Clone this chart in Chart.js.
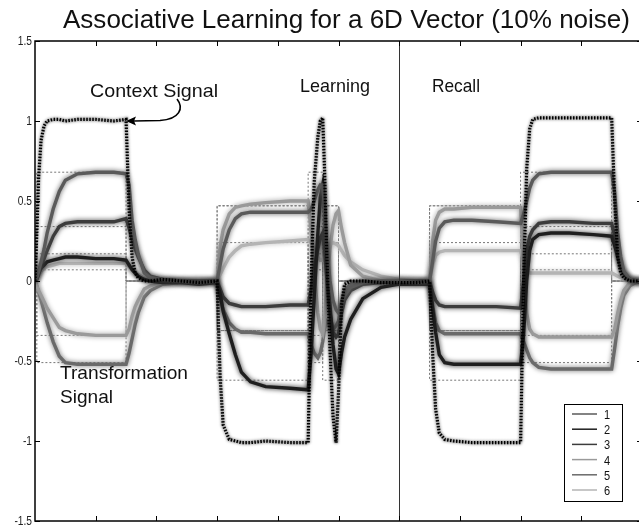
<!DOCTYPE html>
<html>
<head>
<meta charset="utf-8">
<script src="https://cdn.jsdelivr.net/npm/chart.js@4.4.1/dist/chart.umd.min.js"></script>
<style>
  html, body { margin: 0; padding: 0; background: #fff; overflow: hidden; }
  #wrap { width: 639px; height: 527px; overflow: hidden; }
  canvas { display: block; }
</style>
</head>
<body>
<div id="wrap"><canvas id="chart" width="646" height="527"></canvas></div>
<script>
// time steps (x axis, no labels shown)
const T = [0, 3, 6, 10, 15, 20, 30, 40, 50, 70, 100, 130, 150, 155, 160, 165, 170, 180, 190, 210,
  240, 270, 300, 305, 310, 320, 330, 340, 355, 380, 420, 450, 455, 460, 466, 470, 474, 477, 480, 486,
  491, 496, 500, 505, 510, 520, 540, 570, 600, 630, 650, 655, 660, 666, 675, 690, 720, 760, 800, 805,
  810, 815, 820, 830, 850, 880, 920, 950, 955, 960, 965, 970, 980, 990, 1000];

// context signal (dotted black)
const context = [0, 0.3, 0.65, 0.88, 0.97, 1.0, 1.01, 1.01, 1.0, 1.01, 1.01, 1.0, 1.01, 0.45, 0.15, 0.05, 0.02, 0, 0, 0.01,
  0, -0.01, 0, -0.6, -0.9, -0.99, -1.0, -1.01, -1.01, -1.0, -1.01, -1.01, 0.0, 0.62, 0.9, 1.0, 1.02, 0.7, 0.25, -0.43,
  -0.85, -1.01, -0.7, -0.15, -0.02, 0, 0, -0.01, -0.01, -0.01, 0, -0.45, -0.8, -0.95, -0.99, -1.0, -1.01, -1.01, -1.01, 0.0,
  0.7, 0.95, 1.01, 1.02, 1.02, 1.02, 1.02, 1.02, 0.5, 0.15, 0.05, 0.02, 0, 0, 0];

// the six vector components
const ch1 = [0, 0.02, 0.06, 0.12, 0.2, 0.3, 0.45, 0.56, 0.63, 0.67, 0.68, 0.68, 0.67, 0.6, 0.38, 0.26, 0.17, 0.05, 0.02, 0.01,
  0, -0.01, 0, 0.1, 0.2, 0.32, 0.39, 0.42, 0.43, 0.43, 0.43, 0.43, 0.45, 0.5, 0.57, 0.6, 0.6, 0.45, 0.25, 0.0,
  -0.12, -0.18, -0.2, -0.14, -0.09, -0.04, -0.01, 0, 0, -0.01, 0, 0.12, 0.25, 0.33, 0.37, 0.38, 0.38, 0.37, 0.36, 0.42,
  0.5, 0.58, 0.63, 0.67, 0.68, 0.68, 0.68, 0.68, 0.55, 0.3, 0.15, 0.06, 0.01, 0, 0];
const ch2 = [0, 0.02, 0.05, 0.08, 0.1, 0.12, 0.13, 0.14, 0.15, 0.15, 0.14, 0.14, 0.13, 0.1, 0.07, 0.05, 0.03, 0.01, 0, -0.01,
  -0.01, -0.02, -0.01, -0.08, -0.19, -0.33, -0.46, -0.57, -0.63, -0.66, -0.67, -0.68, -0.45, -0.1, 0.3, 0.52, 0.6, 0.45, 0.2, -0.15,
  -0.4, -0.55, -0.58, -0.45, -0.35, -0.24, -0.11, -0.04, -0.02, -0.02, -0.02, -0.17, -0.32, -0.46, -0.51, -0.52, -0.52, -0.52, -0.52, -0.33,
  0.0, 0.19, 0.26, 0.29, 0.3, 0.3, 0.29, 0.28, 0.22, 0.15, 0.09, 0.05, 0.01, 0, -0.01];
const ch3 = [0, 0.01, 0.04, 0.09, 0.14, 0.19, 0.28, 0.34, 0.36, 0.37, 0.37, 0.37, 0.39, 0.33, 0.26, 0.2, 0.15, 0.07, 0.03, 0.01,
  0, 0, 0, -0.05, -0.1, -0.14, -0.15, -0.16, -0.16, -0.16, -0.15, -0.15, -0.05, 0.08, 0.2, 0.27, 0.3, 0.2, 0.05, -0.2,
  -0.32, -0.35, -0.33, -0.2, -0.12, -0.06, -0.02, -0.01, 0, 0, 0, -0.07, -0.12, -0.15, -0.16, -0.16, -0.16, -0.16, -0.17, 0.0,
  0.19, 0.28, 0.32, 0.36, 0.37, 0.37, 0.36, 0.36, 0.28, 0.17, 0.1, 0.05, 0.01, 0, 0];
const ch4 = [0, -0.03, -0.06, -0.09, -0.13, -0.17, -0.23, -0.29, -0.31, -0.33, -0.34, -0.34, -0.34, -0.3, -0.22, -0.16, -0.12, -0.05, -0.03, -0.01,
  0, 0, 0, 0.22, 0.32, 0.42, 0.46, 0.47, 0.48, 0.49, 0.5, 0.5, 0.3, 0.05, -0.2, -0.3, -0.33, -0.25, -0.05, 0.2,
  0.35, 0.42, 0.44, 0.33, 0.24, 0.1, 0.03, 0, 0, 0, 0, 0.25, 0.38, 0.43, 0.45, 0.45, 0.46, 0.46, 0.46, 0.1,
  -0.2, -0.3, -0.33, -0.35, -0.35, -0.35, -0.35, -0.35, -0.3, -0.2, -0.12, -0.06, -0.01, 0, 0];
const ch5 = [0, -0.03, -0.07, -0.12, -0.19, -0.26, -0.38, -0.47, -0.51, -0.52, -0.52, -0.52, -0.52, -0.45, -0.36, -0.27, -0.2, -0.1, -0.06, -0.02,
  -0.01, 0, 0, -0.1, -0.18, -0.26, -0.3, -0.32, -0.32, -0.33, -0.33, -0.33, -0.4, -0.45, -0.48, -0.45, -0.38, -0.3, -0.25, -0.28,
  -0.3, -0.28, -0.25, -0.13, -0.06, -0.02, 0, 0, 0, 0, 0, -0.15, -0.26, -0.31, -0.33, -0.33, -0.33, -0.33, -0.33, -0.38,
  -0.43, -0.48, -0.51, -0.54, -0.55, -0.55, -0.55, -0.55, -0.42, -0.28, -0.17, -0.09, -0.03, -0.01, 0];
const ch6 = [0, 0.02, 0.04, 0.06, 0.08, 0.09, 0.1, 0.11, 0.11, 0.11, 0.11, 0.11, 0.11, 0.09, 0.07, 0.05, 0.04, 0.02, 0.01, 0,
  0, 0, 0, 0.04, 0.08, 0.15, 0.19, 0.22, 0.23, 0.24, 0.25, 0.26, 0.24, 0.2, 0.15, 0.13, 0.13, 0.16, 0.2, 0.23,
  0.24, 0.23, 0.22, 0.19, 0.16, 0.12, 0.07, 0.03, 0.01, 0, 0, 0.1, 0.16, 0.18, 0.19, 0.19, 0.19, 0.19, 0.19, 0.12,
  0.07, 0.05, 0.05, 0.05, 0.05, 0.05, 0.05, 0.05, 0.04, 0.03, 0.02, 0.01, 0, 0, 0];

// step targets (dotted rectangles)
const tgtT = [0, 3, 150, 300, 450, 474, 500, 650, 800, 950, 1000];
const tgt1 = [0, 0.68, 0, 0.47, 0.68, 0.47, 0, 0.47, 0.68, 0, 0];
const tgt2 = [0, 0.17, 0, -0.62, 0.17, -0.62, 0, -0.62, 0.17, 0, 0];
const tgt3 = [0, 0.34, 0, -0.31, 0.34, -0.31, 0, -0.31, 0.34, 0, 0];
const tgt4 = [0, -0.34, 0, 0.47, -0.34, 0.47, 0, 0.47, -0.34, 0, 0];
const tgt5 = [0, -0.51, 0, -0.31, -0.51, -0.31, 0, -0.31, -0.51, 0, 0];
const tgt6 = [0, 0.07, 0, 0.24, 0.07, 0.24, 0, 0.24, 0.07, 0, 0];

const yTicks = [1.5, 1, 0.5, 0, -0.5, -1, -1.5];
const xTicks = [100, 200, 300, 400, 500, 600, 700, 800, 900];
const splitAt = 600;

const FONT = '"Liberation Sans", Arial, sans-serif';
const chanColors = ['#5a5a5a', '#1e1e1e', '#3c3c3c', '#9a9a9a', '#6a6a6a', '#b4b4b4'];

function pts(xs, ys) {
  return xs.map((x, i) => ({ x: x, y: ys[i] }));
}

// draw text squeezed to a given width
function fitText(ctx, str, x, y, size, width) {
  ctx.font = size + 'px ' + FONT;
  const w = ctx.measureText(str).width;
  ctx.save();
  ctx.translate(x, y);
  ctx.scale(width / w, 1);
  ctx.textAlign = 'left';
  ctx.textBaseline = 'alphabetic';
  ctx.fillText(str, 0, 0);
  ctx.restore();
}

// soft blur so the lines read like the noisy traces
const fuzzPlugin = {
  id: 'fuzz',
  beforeDatasetDraw(chart, args) {
    const ds = chart.data.datasets[args.index];
    chart.ctx.save();
    if (ds.fuzz) {
      chart.ctx.shadowColor = ds.borderColor;
      chart.ctx.shadowBlur = ds.fuzz;
    }
  },
  afterDatasetDraw(chart) {
    chart.ctx.restore();
  }
};

const framePlugin = {
  id: 'frame',
  afterDatasetsDraw(chart) {
    const ctx = chart.ctx;
    const a = chart.chartArea;
    const xs = chart.scales.x, ys = chart.scales.y;
    ctx.save();

    // split line between learning and recall
    const sx = Math.round(xs.getPixelForValue(splitAt)) + 0.5;
    ctx.strokeStyle = '#333';
    ctx.lineWidth = 1;
    ctx.beginPath();
    ctx.moveTo(sx, a.top);
    ctx.lineTo(sx, a.bottom);
    ctx.stroke();

    // box
    ctx.strokeStyle = '#000';
    ctx.lineWidth = 1.5;
    ctx.strokeRect(a.left, a.top, a.right - a.left, a.bottom - a.top);

    // inward ticks
    ctx.lineWidth = 1;
    ctx.beginPath();
    xTicks.forEach(v => {
      const px = Math.round(xs.getPixelForValue(v)) + 0.5;
      ctx.moveTo(px, a.top); ctx.lineTo(px, a.top + 5);
      ctx.moveTo(px, a.bottom); ctx.lineTo(px, a.bottom - 5);
    });
    yTicks.forEach(v => {
      const py = Math.round(ys.getPixelForValue(v)) + 0.5;
      ctx.moveTo(a.left, py); ctx.lineTo(a.left + 5, py);
      ctx.moveTo(a.right, py); ctx.lineTo(a.right - 5, py);
    });
    ctx.stroke();

    // y tick labels
    ctx.fillStyle = '#222';
    ctx.font = '12px ' + FONT;
    yTicks.forEach(v => {
      const py = ys.getPixelForValue(v);
      ctx.save();
      ctx.translate(a.left - 3, py + 4);
      ctx.scale(0.85, 1);
      ctx.textAlign = 'right';
      ctx.fillText(String(v), 0, 0);
      ctx.restore();
    });

    // title and annotations
    ctx.fillStyle = '#111';
    fitText(ctx, 'Associative Learning for a 6D Vector (10% noise)', 63, 28, 25, 567);
    fitText(ctx, 'Context Signal', 90, 97, 19, 128);
    fitText(ctx, 'Learning', 300, 92, 19, 70);
    fitText(ctx, 'Recall', 432, 92, 19, 48);
    fitText(ctx, 'Transformation', 60, 379, 19, 128);
    fitText(ctx, 'Signal', 60, 403, 19, 53);

    // arrow to the context signal
    ctx.strokeStyle = '#000';
    ctx.lineWidth = 1.6;
    ctx.beginPath();
    ctx.moveTo(177, 99);
    ctx.bezierCurveTo(184, 108, 180, 119, 160, 120.5);
    ctx.lineTo(134, 121);
    ctx.stroke();
    ctx.fillStyle = '#000';
    ctx.beginPath();
    ctx.moveTo(126, 121);
    ctx.lineTo(136, 116.5);
    ctx.lineTo(134, 121);
    ctx.lineTo(136, 125.5);
    ctx.closePath();
    ctx.fill();

    // legend
    const bx = 564, by = 404, bw = 58, bh = 97;
    ctx.fillStyle = '#fff';
    ctx.fillRect(bx, by, bw, bh);
    ctx.strokeStyle = '#000';
    ctx.lineWidth = 1;
    ctx.strokeRect(bx + 0.5, by + 0.5, bw, bh);
    const chans = chart.data.datasets.filter(d => d.isChannel);
    chans.forEach((d, i) => {
      const yy = 414 + i * 15.2;
      ctx.strokeStyle = d.borderColor;
      ctx.lineWidth = 1.5;
      ctx.beginPath();
      ctx.moveTo(572, yy);
      ctx.lineTo(597, yy);
      ctx.stroke();
      ctx.fillStyle = '#111';
      ctx.save();
      ctx.font = '13px ' + FONT;
      ctx.translate(604, yy + 5);
      ctx.scale(0.85, 1);
      ctx.textAlign = 'left';
      ctx.fillText(d.label, 0, 0);
      ctx.restore();
    });

    ctx.restore();
  }
};

const channels = [ch1, ch2, ch3, ch4, ch5, ch6];
const targets = [tgt1, tgt2, tgt3, tgt4, tgt5, tgt6];

const datasets = [];
datasets.push({
  label: 'Context',
  data: pts(T, context),
  borderColor: '#000',
  borderWidth: 3.2,
  borderDash: [1.5, 1.5],
  fuzz: 3
});
channels.forEach((c, i) => {
  datasets.push({
    label: String(i + 1),
    isChannel: true,
    data: pts(T, c),
    borderColor: chanColors[i],
    borderWidth: 3.4,
    fuzz: 5
  });
});
targets.forEach((g, i) => {
  datasets.push({
    label: 'target ' + (i + 1),
    data: pts(tgtT, g),
    borderColor: '#777',
    borderWidth: 1,
    borderDash: [2, 2],
    stepped: true
  });
});

new Chart(document.getElementById('chart'), {
  type: 'line',
  data: { datasets: datasets },
  options: {
    responsive: false,
    animation: false,
    events: [],
    layout: { padding: { top: 41, right: 4, bottom: 6, left: 0 } },
    elements: { point: { radius: 0 }, line: { tension: 0 } },
    plugins: { legend: { display: false }, tooltip: { enabled: false } },
    scales: {
      x: {
        type: 'linear', min: 0, max: 1000,
        ticks: { display: false },
        grid: { display: false },
        border: { display: false },
        afterFit: s => { s.height = 0; }
      },
      y: {
        min: -1.5, max: 1.5,
        ticks: { display: false, stepSize: 0.5 },
        grid: { display: false },
        border: { display: false },
        afterFit: s => { s.width = 35; }
      }
    }
  },
  plugins: [fuzzPlugin, framePlugin]
});
</script>
</body>
</html>
